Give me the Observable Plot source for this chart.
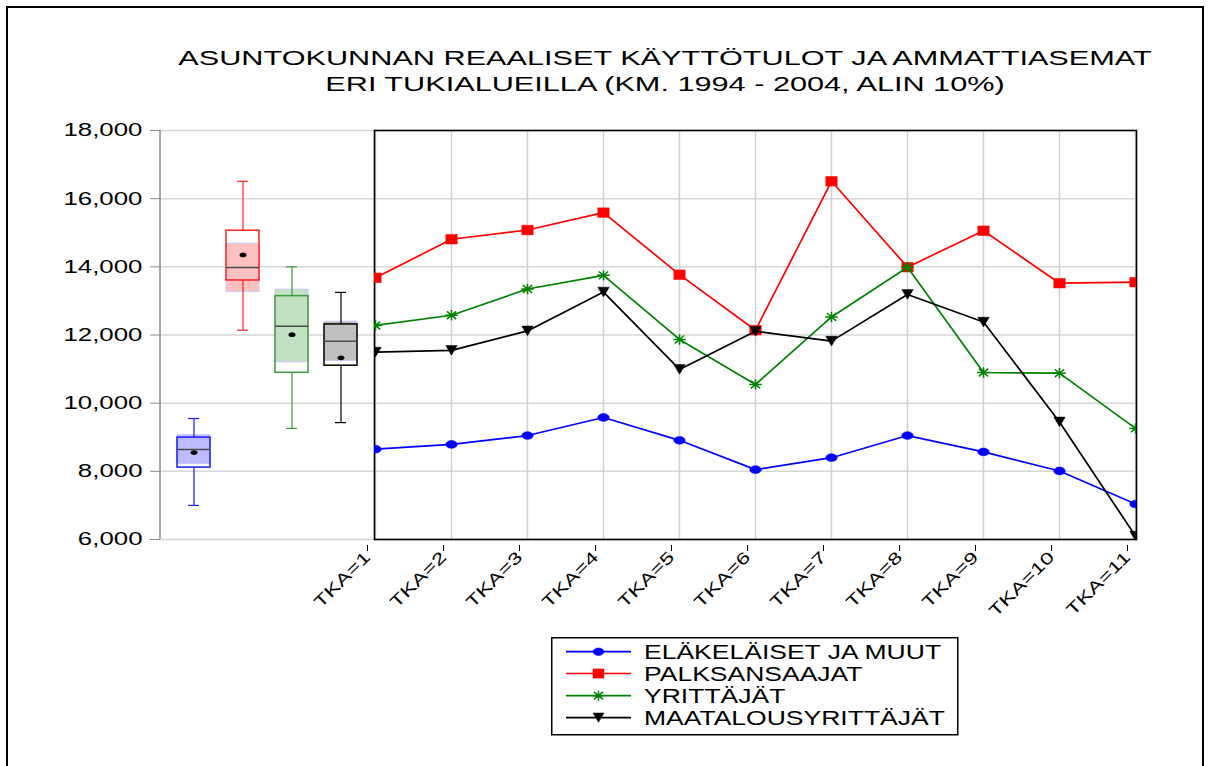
<!DOCTYPE html>
<html><head><meta charset="utf-8">
<script src="https://cdn.jsdelivr.net/npm/d3@7"></script>
<script src="https://cdn.jsdelivr.net/npm/@observablehq/plot@0.6"></script>
<style>
html,body{margin:0;padding:0;background:#fff;overflow:hidden;}
#page{position:relative;width:1209px;height:766px;overflow:hidden;font-family:"Liberation Sans",Arial,sans-serif;}
#border{position:absolute;left:6px;top:6px;width:1194px;height:800px;border:2px solid #000;}
.abs{position:absolute;top:0;}
</style></head><body>
<div id="page"><div id="border"></div>
<div id="title" class="abs" style="left:0"></div>
<div id="left" class="abs" style="left:0"></div>
<div id="right" class="abs" style="left:300px"></div>
<div id="legend" class="abs" style="left:551px;top:637px"></div>
</div>
<script>
// ---------- data ----------
const titleLines = ["ASUNTOKUNNAN REAALISET KÄYTTÖTULOT JA AMMATTIASEMAT", "ERI TUKIALUEILLA (KM. 1994 - 2004, ALIN 10%)"];
const tka = ["TKA=1","TKA=2","TKA=3","TKA=4","TKA=5","TKA=6","TKA=7","TKA=8","TKA=9","TKA=10","TKA=11"];
const seriesNames = ["ELÄKELÄISET JA MUUT", "PALKSANSAAJAT", "YRITTÄJÄT", "MAATALOUSYRITTÄJÄT"];
const elakelaiset   = [8650, 8790, 9050, 9580, 8910, 8050, 8400, 9050, 8570, 8010, 7040];
const palksansaajat = [13680, 14810, 15080, 15590, 13770, 12140, 16510, 13990, 15060, 13520, 13550];
const yrittajat     = [12280, 12580, 13350, 13750, 11870, 10550, 12530, 13990, 10900, 10880, 9260];
const maatalous     = [11500, 11550, 12120, 13260, 10990, 12110, 11820, 13190, 12380, 9450, 6100];
const yTicks = [6000, 8000, 10000, 12000, 14000, 16000, 18000];
// box plot summaries (per series)
const boxLow    = [7000, 12140, 9260, 9430];
const boxQ1     = [8110, 13600, 10890, 11100];
const boxMedian = [8640, 13980, 12260, 11820];
const boxQ3     = [8990, 15060, 13140, 12310];
const boxHigh   = [9550, 16510, 14000, 13250];
const boxMean   = [8550, 14350, 12010, 11330];
const boxCiLow  = [8210, 13260, 11200, 11240];
const boxCiHigh = [9060, 14680, 13330, 12390];

// ---------- styles ----------
const seriesValues = [elakelaiset, palksansaajat, yrittajat, maatalous];
const lineColors = ["#0000ff", "#ff0000", "#008000", "#000000"];
const boxStroke = ["#1a1aff", "#ff2020", "#3c9a3c", "#000000"];
const boxShade = ["#bcbcff", "#ffc0c0", "#c2e0c2", "#c0c0c0"];
const FONT = "'Liberation Sans', Arial, sans-serif";

// custom symbols (slightly wide, like the original)
const symEllipse = {draw(ctx, size){const r=Math.sqrt(size/Math.PI),a=1.1*r,b=0.75*r,k=0.5523;
  ctx.moveTo(a,0);ctx.bezierCurveTo(a,k*b,k*a,b,0,b);ctx.bezierCurveTo(-k*a,b,-a,k*b,-a,0);
  ctx.bezierCurveTo(-a,-k*b,-k*a,-b,0,-b);ctx.bezierCurveTo(k*a,-b,a,-k*b,a,0);ctx.closePath();}};
const symSquare = {draw(ctx, size){const r=Math.sqrt(size/Math.PI),a=1.1*r,b=0.92*r;
  ctx.moveTo(-a,-b);ctx.lineTo(a,-b);ctx.lineTo(a,b);ctx.lineTo(-a,b);ctx.closePath();}};
const symAsterisk = {draw(ctx, size){const r=Math.sqrt(size/Math.PI);
  ctx.moveTo(-1.2*r,0);ctx.lineTo(1.2*r,0);ctx.moveTo(0,-r);ctx.lineTo(0,r);
  ctx.moveTo(-0.9*r,-0.75*r);ctx.lineTo(0.9*r,0.75*r);ctx.moveTo(-0.9*r,0.75*r);ctx.lineTo(0.9*r,-0.75*r);}};
const symTriDown = {draw(ctx, size){const r=Math.sqrt(size/Math.PI),a=1.1*r,h=0.93*r;
  ctx.moveTo(-a,-h);ctx.lineTo(a,-h);ctx.lineTo(0,h);ctx.closePath();}};
const symbols = [symEllipse, symSquare, symAsterisk, symTriDown];
const symFill = [true, true, false, true];

function stretch(svg, k, sel="text") {
  svg.querySelectorAll(sel).forEach(t => {
    const w = t.getComputedTextLength();
    if (w > 0) { t.setAttribute("textLength", (w*k).toFixed(1)); t.setAttribute("lengthAdjust", "spacingAndGlyphs"); }
  });
}

const yScale = {domain: [6000, 18000], axis: null};

// ---------- title ----------
const tsvg = d3.create("svg").attr("width", 1209).attr("height", 100).style("display","block");
const tline = [64.7, 91];
titleLines.forEach((s, i) => tsvg.append("text").attr("x", 665).attr("y", tline[i]).attr("text-anchor", "middle")
  .attr("font-family", FONT).attr("font-size", 19.8).attr("fill", "#000").text(s));
document.getElementById("title").append(tsvg.node());
stretch(tsvg.node(), 1.55);

// ---------- left: box plots ----------
const boxData = seriesNames.map((name, i) => ({name, low: boxLow[i], q1: boxQ1[i], median: boxMedian[i], q3: boxQ3[i],
  high: boxHigh[i], mean: boxMean[i], ciLow: boxCiLow[i], ciHigh: boxCiHigh[i]}));

function yAxisLine(index, scales, values, dim) {
  return d3.create("svg:line").attr("x1", dim.marginLeft).attr("x2", dim.marginLeft)
    .attr("y1", scales.y(18000)).attr("y2", scales.y(6000)).attr("stroke", "#8a8a8a").attr("stroke-width", 1.5).node();
}

const boxMarks = boxData.flatMap((d, i) => [
  Plot.barY([d], {x: "name", y1: "ciLow", y2: "ciHigh", fill: boxShade[i], stroke: "#c8c8ff", strokeWidth: 1}),
  Plot.ruleX([d], {x: "name", y1: "low", y2: "q1", stroke: boxStroke[i], strokeWidth: 1.2}),
  Plot.ruleX([d], {x: "name", y1: "q3", y2: "high", stroke: boxStroke[i], strokeWidth: 1.2}),
  Plot.tickY([d], {x: "name", y: "low", stroke: boxStroke[i], strokeWidth: 1.2, insetLeft: 11, insetRight: 11}),
  Plot.tickY([d], {x: "name", y: "high", stroke: boxStroke[i], strokeWidth: 1.2, insetLeft: 11, insetRight: 11}),
  Plot.barY([d], {x: "name", y1: "q1", y2: "q3", fill: "none", stroke: boxStroke[i], strokeWidth: 1.5}),
  Plot.tickY([d], {x: "name", y: "median", stroke: "#4a4a4a", strokeWidth: 1.5}),
  Plot.dot([d], {x: "name", y: "mean", r: 3.2, symbol: symEllipse, fill: "black", stroke: "none"})
]);

const left = Plot.plot({
  width: 374, height: 620, marginLeft: 160, marginRight: 0, marginTop: 130, marginBottom: 81,
  style: {background: "transparent", fontFamily: FONT, overflow: "visible"},
  x: {type: "band", domain: seriesNames, paddingInner: 0.333, paddingOuter: 0.328, axis: null},
  y: yScale,
  marks: [
    Plot.gridY(yTicks, {stroke: "#d6d6d6", strokeOpacity: 1, strokeWidth: 1.5}),
    Plot.axisY(yTicks, {tickSize: 10, tickPadding: 8, tickFormat: d3.format(","), fontSize: 18.6, stroke: "#8a8a8a", fill: "black", label: null}),
    yAxisLine,
    ...boxMarks
  ]
});
document.getElementById("left").append(left);
stretch(left, 1.39);

// ---------- right: line chart ----------
const lineMarks = seriesValues.flatMap((vals, j) => {
  const data = tka.map((t, i) => ({tka: t, value: vals[i]}));
  return [
    Plot.line(data, {x: "tka", y: "value", stroke: lineColors[j], strokeWidth: 1.7, clip: true}),
    Plot.dot(data, {x: "tka", y: "value", r: 5.2, symbol: symbols[j], clip: true,
      fill: symFill[j] ? lineColors[j] : "none", stroke: lineColors[j], strokeWidth: symFill[j] ? 0.5 : 1.5})
  ];
});

const right = Plot.plot({
  width: 909, height: 620, marginLeft: 74, marginRight: 73, marginTop: 130, marginBottom: 81,
  style: {background: "transparent", fontFamily: FONT, overflow: "visible"},
  x: {type: "point", domain: tka, padding: 0, axis: null},
  y: yScale,
  marks: [
    Plot.gridY(yTicks, {stroke: "#d6d6d6", strokeOpacity: 1, strokeWidth: 1.5}),
    Plot.gridX(tka, {stroke: "#d0d0d0", strokeOpacity: 1, strokeWidth: 1.5}),
    Plot.axisX(tka, {tickRotate: -45, tickSize: 6, tickPadding: 3, dx: -8, dy: 6, fontSize: 16.5, stroke: "black", fill: "black", label: null}),
    Plot.frame({stroke: "black", strokeWidth: 1.6}),
    ...lineMarks
  ]
});
document.getElementById("right").append(right);
stretch(right, 1.4);

// ---------- legend ----------
const lg = d3.create("svg").attr("width", 410).attr("height", 100).style("display", "block");
lg.append("rect").attr("x", 0.75).attr("y", 0.75).attr("width", 406).attr("height", 97)
  .attr("fill", "white").attr("stroke", "black").attr("stroke-width", 1.5);
const rowY = [14.7, 36.5, 58.7, 80.7];
seriesNames.forEach((name, j) => {
  const g = lg.append("g").attr("transform", `translate(0,${rowY[j]})`);
  g.append("line").attr("x1", 15).attr("x2", 80).attr("stroke", lineColors[j]).attr("stroke-width", 1.7);
  g.append("path").attr("transform", "translate(47.5,0)").attr("d", d3.symbol(symbols[j], 25*Math.PI)())
    .attr("fill", symFill[j] ? lineColors[j] : "none").attr("stroke", lineColors[j]).attr("stroke-width", symFill[j] ? 0.5 : 1.5);
  g.append("text").attr("x", 93).attr("dy", "0.36em").attr("font-family", FONT).attr("font-size", 19.8).text(name);
});
document.getElementById("legend").append(lg.node());
stretch(lg.node(), 1.34);
</script>
</body></html>
